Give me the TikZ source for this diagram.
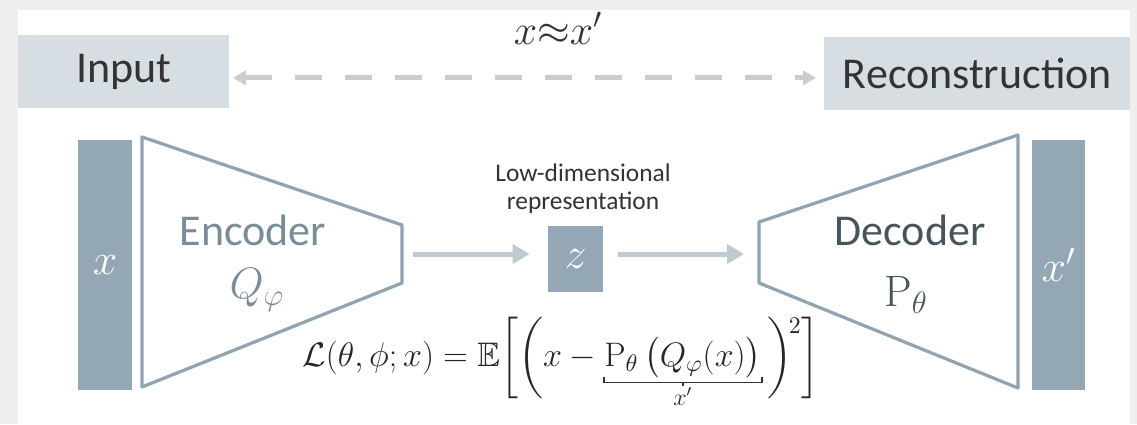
\RequirePackage{fix-cm}
\documentclass[tikz,border=0pt]{standalone}
\usepackage{amsmath,amssymb}
\usepackage[no-math]{fontspec}
\setmainfont{Carlito}
\usetikzlibrary{arrows.meta,positioning}
\definecolor{aeframe}{HTML}{EFEFEF}
\definecolor{aelabel}{HTML}{D6DEE3}
\definecolor{aebar}{HTML}{93A8B4}
\definecolor{aeline}{HTML}{8FA4B0}
\definecolor{aearrow}{HTML}{BFCBD1}
\definecolor{aedash}{HTML}{C9CDD0}
\definecolor{aetext}{HTML}{7A8C97}
\definecolor{aedeep}{HTML}{48545C}
\definecolor{aedark}{HTML}{333333}
\newcommand{\fsz}[2]{\fontsize{#1}{#2}\selectfont}

\begin{document}
\begin{tikzpicture}[x=0.5pt,y=-0.5pt,>=Latex]
\tikzset{
 tagbox/.style={fill=aelabel,inner sep=0pt,minimum height=36.5pt,anchor=north west,font=\fsz{22}{26},text=aedark},
 bar/.style={fill=aebar,inner sep=0pt,minimum width=27pt,minimum height=125pt,text=white,font=\fsz{22}{26}},
 coder/.style={draw=aeline,line width=1.6pt,fill=white,line join=round},
 codertext/.style={text=aetext,font=\fsz{22}{26}},
 flow/.style={-{Triangle[length=8.5pt,width=9.5pt]},line width=2.5pt,draw=aearrow},
 dashflow/.style={{Triangle[length=6.5pt,width=7pt]}-{Triangle[length=6.5pt,width=7pt]},line width=2.5pt,draw=aedash,dash pattern=on 13.5pt off 11.5pt},
 eq/.style={inner sep=0pt,text=black!85,font=\fsz{17}{20}},
 brace/.style={draw=black!80,line width=0.8pt}
}
% frame
\fill[aeframe] (0,0) rectangle (1137,424);
\fill[white] (18,10) rectangle (1130,424);
\useasboundingbox (0,0) rectangle (1137,424);

% top row
\node[tagbox,minimum width=105.5pt] (inp) at (18,35) {Input};
\node[tagbox,minimum width=153pt] (rec) at (824,37) {Reconstruction};
\draw[dashflow,shorten <=1.5pt,shorten >=4pt] ([yshift=-3pt]inp.east) -- ([yshift=-3pt]inp.east -| rec.west);
\node[anchor=base,text=aedark,font=\fsz{21}{25}] (approx) at (558,44) {$x{\approx}x'$};

% encoder / decoder
\node[bar] (xin) at (105,265) {$x$};
\draw[coder] (142,137) -- (402,225) -- (402,283) -- (142,387) -- cycle;
\node[codertext] (enc) at (253,230) {Encoder};
\node[codertext] (qphi) at (257,290) {$Q_\varphi$};
\coordinate (encout) at (413,254);

\node[bar,minimum width=27.5pt,minimum height=33pt] (z) at (575.5,259) {$z$};
\node[align=center,text=aedark,font=\fsz{12.7}{14}] (lowdim) at (583,189) {Low-dimensional\\representation};

\draw[coder] (759,222) -- (1018,135) -- (1018,388) -- (759,283) -- cycle;
\node[codertext,text=aedeep] (dec) at (910,230) {Decoder};
\node[codertext,text=aedeep] (ptheta) at (906,295) {$\mathrm{P}_\theta$};
\coordinate (decin) at (744,254);
\node[bar,minimum width=26.5pt] (xout) at (1058.5,265) {$x'$};

\draw[flow,shorten >=9pt] (encout) -- (encout -| z.west);
\draw[flow,shorten <=7.5pt] (decin -| z.east) -- (decin);

% loss
\node[eq,anchor=base west] (lhs) at (302,366) {$\mathcal{L}(\theta,\phi;x)=\mathbb{E}\biggl[\biggl(x-{}$};
\node[eq,anchor=base west] (pq) at (lhs.base east) {$\mathrm{P}_\theta\,\bigl(Q_\varphi(x)\bigr)$};
\node[eq,anchor=base west] (rhs) at (pq.base east) {$\,\biggr)^{\!\raisebox{-4pt}{$\scriptstyle 2$}}\biggr]$};
\draw[brace] ([yshift=0.5pt]pq.south west) -- ([yshift=-2pt]pq.south west) -- ([yshift=-2pt]pq.south east) -- ([yshift=0.5pt]pq.south east);
\draw[brace] ([yshift=-2pt]pq.south) -- ([yshift=-4pt]pq.south);
\node[eq,font=\fsz{12}{14},below=4.5pt of pq.south] (xprime) {$x'$};
\end{tikzpicture}
\end{document}
